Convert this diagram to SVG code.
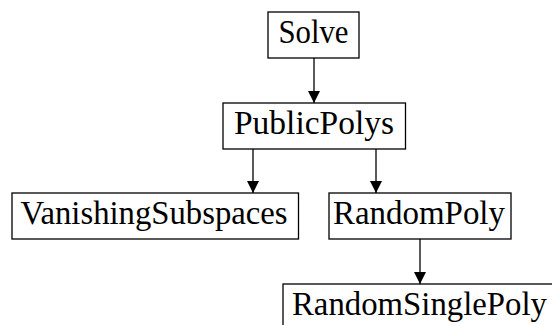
<svg xmlns="http://www.w3.org/2000/svg" width="552" height="325" viewBox="0 0 552 325">
<style>
  rect { fill: #ffffff; stroke: #000000; stroke-width: 1.3; }
  text { font-family: 'Liberation Serif', 'Times New Roman', serif; font-size: 33px; fill: #000000; text-anchor: middle; }
  .edge { stroke: #000000; stroke-width: 1.3; fill: none; marker-end: url(#arrow); }
</style>
<defs>
  <marker id="arrow" markerWidth="12" markerHeight="12" viewBox="0 0 12 12" refX="12" refY="6" orient="auto" markerUnits="userSpaceOnUse">
    <path d="M0,0 L12,6 L0,12 Z" fill="#000000"/>
  </marker>
</defs>
<g id="connectors">
  <line class="edge" x1="314" y1="58" x2="314" y2="103"/>
  <line class="edge" x1="253" y1="149" x2="253" y2="193"/>
  <line class="edge" x1="376" y1="149" x2="376" y2="193"/>
  <line class="edge" x1="420" y1="239" x2="420" y2="284"/>
</g>
<g id="Solve">
  <rect x="268" y="12" width="91" height="46"/>
  <text x="313.5" y="43" textLength="70" lengthAdjust="spacingAndGlyphs">Solve</text>
</g>
<g id="PublicPolys">
  <rect x="223" y="103" width="182.5" height="46"/>
  <text x="314" y="134" textLength="160" lengthAdjust="spacingAndGlyphs">PublicPolys</text>
</g>
<g id="VanishingSubspaces">
  <rect x="12" y="193" width="286.5" height="46"/>
  <text x="154" y="224" textLength="267" lengthAdjust="spacingAndGlyphs">VanishingSubspaces</text>
</g>
<g id="RandomPoly">
  <rect x="329" y="193" width="182" height="46"/>
  <text x="419" y="224" textLength="172" lengthAdjust="spacingAndGlyphs">RandomPoly</text>
</g>
<g id="RandomSinglePoly">
  <rect x="283" y="284" width="275" height="46"/>
  <text x="419.5" y="315" textLength="255" lengthAdjust="spacingAndGlyphs">RandomSinglePoly</text>
</g>
</svg>
